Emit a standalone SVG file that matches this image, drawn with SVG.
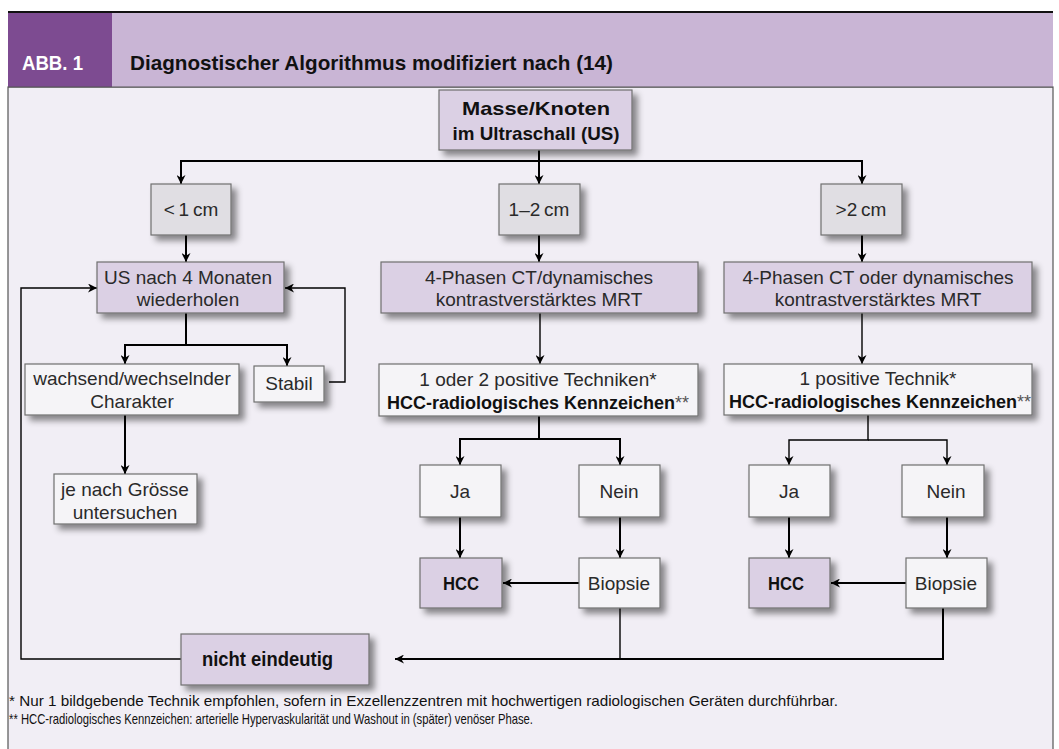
<svg xmlns="http://www.w3.org/2000/svg" width="1059" height="749" viewBox="0 0 1059 749">
<defs>
<style>
.t{font-family:"Liberation Sans",Arial,sans-serif;font-size:19px;fill:#2a2a2a;text-anchor:middle}
.b{font-family:"Liberation Sans",Arial,sans-serif;font-weight:bold;fill:#111;text-anchor:middle}
.np{fill:#DBD0E4;stroke:#6f6f6f;stroke-width:1.2}
.ng{fill:#E0DEE3;stroke:#6f6f6f;stroke-width:1.2}
.nw{fill:#F5F4F7;stroke:#6f6f6f;stroke-width:1.2}
.c{fill:none;stroke:#000;stroke-width:2}
.c1{fill:none;stroke:#000;stroke-width:1.4}
.fn{font-family:"Liberation Sans",Arial,sans-serif;font-size:15px;fill:#111}
</style>
<filter id="sh" x="-10%" y="-20%" width="130%" height="170%">
<feDropShadow dx="5" dy="5" stdDeviation="3" flood-color="#000" flood-opacity="0.45"/>
</filter>
<marker id="ar" viewBox="0 0 10 10" refX="10" refY="5" markerWidth="9" markerHeight="9" markerUnits="userSpaceOnUse" orient="auto">
<path d="M0,0 L10,5 L0,10 L3,5 z" fill="#000"/>
</marker>
</defs>
<rect x="0" y="0" width="1059" height="749" fill="#fff"/>
<g id="frame">
<rect x="8" y="87" width="1045" height="670" fill="#F1EEF5" stroke="#555" stroke-width="1.2"/>
<rect x="8" y="12" width="1045" height="75" fill="#C9B5D5"/>
<rect x="8" y="12" width="104" height="75" fill="#7D4B91"/>
<line x1="8" y1="12" x2="1053" y2="12" stroke="#111" stroke-width="2"/>
<line x1="8" y1="87" x2="1053" y2="87" stroke="#555" stroke-width="1"/>
<text x="22" y="70" font-family="Liberation Sans,Arial,sans-serif" font-weight="bold" font-size="21" fill="#fff" textLength="61" lengthAdjust="spacingAndGlyphs">ABB. 1</text>
<text x="130" y="70" font-family="Liberation Sans,Arial,sans-serif" font-weight="bold" font-size="21" fill="#111" textLength="483" lengthAdjust="spacingAndGlyphs">Diagnostischer Algorithmus modifiziert nach (14)</text>
</g>
<g id="connectors">
<path class="c" d="M539,150 V184" marker-end="url(#ar)"/>
<path class="c" d="M539,161 H181 V184" marker-end="url(#ar)"/>
<path class="c" d="M539,161 H862 V184" marker-end="url(#ar)"/>
<path class="c" d="M186,235 V262" marker-end="url(#ar)"/>
<path class="c" d="M539,235 V262" marker-end="url(#ar)"/>
<path class="c" d="M862,235 V262" marker-end="url(#ar)"/>
<path class="c" d="M186,313 V345 H125 V364" marker-end="url(#ar)"/>
<path class="c" d="M186,345 H287 V366" marker-end="url(#ar)"/>
<path class="c1" d="M329,382 H345 V288 H285" marker-end="url(#ar)"/>
<path class="c" d="M125,415 V474" marker-end="url(#ar)"/>
<path class="c1" d="M181,659 H21 V288 H97" marker-end="url(#ar)"/>
<path class="c1" d="M540,313 V364" marker-end="url(#ar)"/>
<path class="c1" d="M862,313 V364" marker-end="url(#ar)"/>
<path class="c" d="M539,416 V439 H460 V465" marker-end="url(#ar)"/>
<path class="c" d="M539,439 H620 V465" marker-end="url(#ar)"/>
<path class="c1" d="M868,415 V440 H789 V465" marker-end="url(#ar)"/>
<path class="c1" d="M868,440 H947 V465" marker-end="url(#ar)"/>
<path class="c" d="M460,517 V558" marker-end="url(#ar)"/>
<path class="c" d="M620,517 V558" marker-end="url(#ar)"/>
<path class="c" d="M789,517 V558" marker-end="url(#ar)"/>
<path class="c" d="M947,517 V558" marker-end="url(#ar)"/>
<path class="c" d="M579,583 H503" marker-end="url(#ar)"/>
<path class="c" d="M906,583 H831" marker-end="url(#ar)"/>
<path class="c" d="M943,608 V659 H395" marker-end="url(#ar)"/>
<path class="c1" d="M620,608 V659"/>
</g>
<g id="n-masse"><rect class="np" x="439" y="90" width="193" height="60" filter="url(#sh)"/>
<text class="b" x="536" y="115" font-size="19" textLength="148" lengthAdjust="spacingAndGlyphs">Masse/Knoten</text>
<text class="b" x="536" y="140" font-size="19" textLength="167" lengthAdjust="spacingAndGlyphs">im Ultraschall (US)</text></g>
<g id="n-lt1"><rect class="ng" x="151" y="184" width="80" height="51" filter="url(#sh)"/><text class="t" x="191" y="216" font-size="18">&lt;&#8201;1&#8201;cm</text></g>
<g id="n-12"><rect class="ng" x="499" y="184" width="81" height="51" filter="url(#sh)"/><text class="t" x="539" y="216" font-size="18">1–2&#8201;cm</text></g>
<g id="n-gt2"><rect class="ng" x="821" y="184" width="81" height="51" filter="url(#sh)"/><text class="t" x="861" y="216" font-size="18">&gt;2&#8201;cm</text></g>
<g id="n-us4"><rect class="np" x="97" y="262" width="187" height="51" filter="url(#sh)"/>
<text class="t" x="188" y="284">US nach 4 Monaten</text><text class="t" x="188" y="306">wiederholen</text></g>
<g id="n-ct1"><rect class="np" x="381" y="262" width="317" height="51" filter="url(#sh)"/>
<text class="t" x="539" y="284">4-Phasen CT/dynamisches</text><text class="t" x="539" y="306">kontrastverstärktes MRT</text></g>
<g id="n-ct2"><rect class="np" x="724" y="262" width="308" height="51" filter="url(#sh)"/>
<text class="t" x="878" y="284">4-Phasen CT oder dynamisches</text><text class="t" x="878" y="306">kontrastverstärktes MRT</text></g>
<g id="n-wachs"><rect class="nw" x="25" y="364" width="214" height="51" filter="url(#sh)"/>
<text class="t" x="132" y="385">wachsend/wechselnder</text><text class="t" x="132" y="408">Charakter</text></g>
<g id="n-stabil"><rect class="nw" x="254" y="366" width="70" height="36" filter="url(#sh)"/><text class="t" x="289" y="390">Stabil</text></g>
<g id="n-jenach"><rect class="nw" x="54" y="474" width="143" height="50" filter="url(#sh)"/>
<text class="t" x="125" y="496">je nach Grösse</text><text class="t" x="125" y="519">untersuchen</text></g>
<g id="n-tech1"><rect class="nw" x="379" y="364" width="319" height="52" filter="url(#sh)"/>
<text class="t" x="538" y="386">1 oder 2 positive Techniken*</text>
<text x="387" y="409" font-family="Liberation Sans,Arial,sans-serif" font-size="18"><tspan font-weight="bold" fill="#111">HCC-radiologisches Kennzeichen</tspan><tspan fill="#555">**</tspan></text></g>
<g id="n-tech2"><rect class="nw" x="724" y="364" width="308" height="51" filter="url(#sh)"/>
<text class="t" x="878" y="385">1 positive Technik*</text>
<text x="729" y="408" font-family="Liberation Sans,Arial,sans-serif" font-size="18"><tspan font-weight="bold" fill="#111">HCC-radiologisches Kennzeichen</tspan><tspan fill="#555">**</tspan></text></g>
<g id="n-ja1"><rect class="nw" x="420" y="465" width="81" height="52" filter="url(#sh)"/><text class="t" x="460" y="498">Ja</text></g>
<g id="n-nein1"><rect class="nw" x="579" y="465" width="81" height="52" filter="url(#sh)"/><text class="t" x="619" y="498">Nein</text></g>
<g id="n-hcc1"><rect class="np" x="420" y="558" width="82" height="50" filter="url(#sh)"/><text class="b" x="461" y="590" font-size="18" textLength="36" lengthAdjust="spacingAndGlyphs">HCC</text></g>
<g id="n-bio1"><rect class="nw" x="579" y="558" width="81" height="50" filter="url(#sh)"/><text class="t" x="619" y="590">Biopsie</text></g>
<g id="n-ja2"><rect class="nw" x="749" y="465" width="81" height="52" filter="url(#sh)"/><text class="t" x="789" y="498">Ja</text></g>
<g id="n-nein2"><rect class="nw" x="902" y="465" width="82" height="52" filter="url(#sh)"/><text class="t" x="946" y="498">Nein</text></g>
<g id="n-hcc2"><rect class="np" x="749" y="558" width="81" height="50" filter="url(#sh)"/><text class="b" x="786" y="590" font-size="18" textLength="36" lengthAdjust="spacingAndGlyphs">HCC</text></g>
<g id="n-bio2"><rect class="nw" x="906" y="558" width="81" height="50" filter="url(#sh)"/><text class="t" x="946" y="590">Biopsie</text></g>
<g id="n-nicht"><rect class="np" x="181" y="634" width="188" height="51" filter="url(#sh)"/><text x="202" y="666" font-family="Liberation Sans,Arial,sans-serif" font-weight="bold" font-size="20" fill="#111" textLength="131" lengthAdjust="spacingAndGlyphs">nicht eindeutig</text></g>
<g id="footnotes">
<text class="fn" x="9" y="706" textLength="829" lengthAdjust="spacingAndGlyphs">* Nur 1 bildgebende Technik empfohlen, sofern in Exzellenzzentren mit hochwertigen radiologischen Geräten durchführbar.</text>
<text class="fn" x="9" y="724" textLength="524" lengthAdjust="spacingAndGlyphs">** HCC-radiologisches Kennzeichen: arterielle Hypervaskularität und Washout in (später) venöser Phase.</text>
</g>
</svg>
